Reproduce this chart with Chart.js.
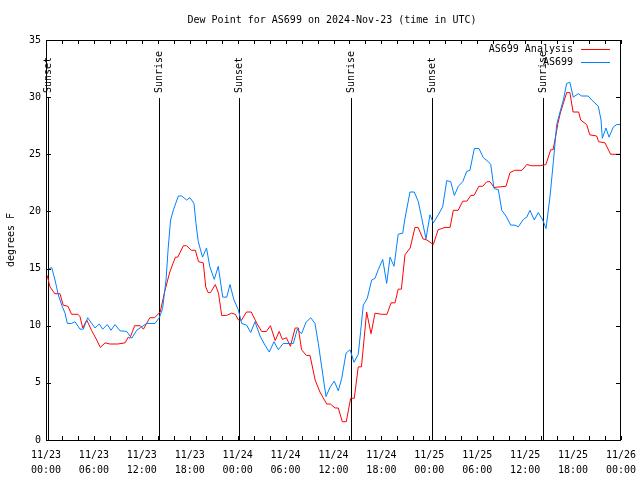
<!DOCTYPE html>
<html>
<head>
<meta charset="utf-8">
<script src="https://cdn.jsdelivr.net/npm/chart.js@4.4.1/dist/chart.umd.min.js"></script>
<style>
  html, body { margin: 0; padding: 0; background: #fff; }
  canvas { display: block; }
</style>
</head>
<body>
<canvas id="c" width="640" height="480"></canvas>
<script>
// ---- Data (hours since 2024-11-23 00:00 UTC, dew point in degrees F) ----
const analysisHours = [0.15,0.5,1.1,1.75,2.15,2.75,3.2,4.0,4.25,4.6,5.1,5.7,6.35,6.8,7.4,8.0,9.0,9.9,10.3,10.5,11.1,11.8,12.2,13.0,13.6,14.3,14.9,15.5,16.2,16.5,17.2,17.6,18.2,18.7,19.1,19.7,20.0,20.3,20.6,21.2,21.6,22.0,22.6,23.25,23.7,24.1,24.5,25.1,25.7,26.4,27.0,27.6,28.1,28.7,29.2,29.6,30.1,30.6,31.2,31.6,32.0,32.6,33.06,33.7,34.3,35.15,35.6,36.2,36.6,37.1,37.6,38.15,38.6,39.1,39.5,40.15,40.7,41.2,42.0,42.7,43.2,43.7,44.1,44.5,44.95,45.6,46.2,46.6,47.2,47.7,48.5,49.1,49.96,50.6,51.0,51.6,52.2,52.7,53.2,53.6,54.2,54.7,55.2,55.6,56.1,57.6,58.1,58.7,59.6,60.2,60.8,61.9,62.6,63.2,63.5,63.9,64.1,64.4,64.8,65.2,65.6,66.0,66.7,66.95,67.7,68.1,68.95,69.2,70.0,70.7,72];
const analysisDewF = [14.4,13.4,12.8,12.8,11.8,11.7,11.0,11.0,10.8,9.8,10.5,9.6,8.75,8.1,8.5,8.4,8.4,8.5,9.0,8.9,10.0,10.0,9.7,10.7,10.7,11.2,13.1,14.7,16.0,16.0,17.0,17.0,16.6,16.6,15.6,15.5,13.4,12.9,12.9,13.6,12.85,10.9,10.9,11.1,11.0,10.5,10.5,11.2,11.2,10.2,9.5,9.5,10.0,8.7,9.5,8.8,8.95,8.2,9.8,9.8,7.9,7.4,7.4,5.25,4.2,3.15,3.15,2.8,2.8,1.6,1.6,3.65,3.65,6.4,6.4,11.2,9.3,11.1,11.0,11.0,12.0,12.0,13.2,13.2,16.2,16.8,18.6,18.6,17.6,17.5,17.1,18.4,18.6,18.6,20.1,20.1,20.9,20.9,21.4,21.4,22.2,22.2,22.6,22.6,22.1,22.2,23.4,23.6,23.6,24.1,24.0,24.0,24.1,25.4,25.4,26.9,27.7,28.6,29.5,30.4,30.4,28.7,28.7,28.0,27.6,26.7,26.6,26.1,26.0,25.0,25.0];

const stationHours = [0.16,0.71,1.13,1.54,1.97,2.38,2.67,3.22,3.63,4.26,4.67,5.22,5.72,6.14,6.67,7.1,7.68,8.14,8.64,9.27,10.1,10.73,11.36,11.98,12.6,13.65,14.19,14.6,15.03,15.3,15.6,15.94,16.57,16.99,17.6,18.03,18.53,18.78,19.07,19.6,20.1,20.5,21.07,21.57,22.13,22.63,23.04,23.54,24.08,24.5,25.13,25.63,26.17,26.8,27.42,27.96,28.55,29.09,29.7,30.97,31.47,32.0,32.56,33.15,33.68,34.1,34.52,35.06,35.56,36.1,36.6,37.03,37.57,38.07,38.57,39.1,39.4,39.73,40.23,40.78,41.2,41.6,42.16,42.66,43.08,43.58,44.1,44.67,44.95,45.58,46.12,46.62,47.05,47.58,48.08,48.5,49.12,49.67,50.18,50.68,51.13,51.63,52.18,52.68,53.09,53.63,54.22,54.76,55.39,55.69,56.1,56.64,57.07,57.6,58.19,58.73,59.14,59.77,60.2,60.6,61.14,61.64,62.2,62.61,63.11,63.53,63.95,64.36,64.78,65.2,65.6,66.02,66.65,67.07,67.9,68.33,69.16,69.5,69.66,70.12,70.5,71.05,71.47,72];
const stationDewF = [14.9,15.1,14.0,12.7,11.8,11.1,10.2,10.2,10.35,9.7,9.7,10.7,10.2,9.8,10.15,9.7,10.1,9.6,10.1,9.55,9.5,8.9,9.6,9.9,10.2,10.2,10.7,11.5,14.0,16.8,19.25,20.1,21.35,21.35,21.0,21.2,20.7,18.95,17.35,16.0,16.8,15.2,14.05,15.2,12.5,12.5,13.6,12.25,11.4,10.2,10.05,9.4,10.35,9.1,8.3,7.7,8.6,7.9,8.45,8.45,9.7,9.3,10.3,10.7,10.2,8.45,6.4,3.8,4.6,5.15,4.3,5.4,7.6,7.9,6.8,7.5,9.5,11.8,12.4,14.0,14.15,14.9,15.8,13.7,16.0,15.2,18.0,18.1,19.4,21.7,21.7,20.85,19.4,17.6,19.7,19.0,19.7,20.4,22.7,22.6,21.4,22.2,22.6,23.5,23.6,25.5,25.5,24.7,24.35,24.1,22.0,21.9,20.1,19.6,18.8,18.8,18.65,19.3,19.5,20.1,19.25,19.9,19.25,18.5,21.3,24.35,27.6,28.7,29.75,31.2,31.3,30.0,30.3,30.1,30.1,29.75,29.2,28.0,26.4,27.3,26.5,27.4,27.6,27.6];

const eventHours = [0.28, 14.19, 24.2, 38.23, 48.3, 62.27];
const eventLabels = ['Sunset', 'Sunrise', 'Sunset', 'Sunrise', 'Sunset', 'Sunrise'];

const seriesNames = ['AS699 Analysis', 'AS699'];
const seriesColors = ['#ff0000', '#0080ff'];
const startDay = 23;
const monthLabel = '11';

const FONT = '10px "DejaVu Sans Mono", "Liberation Mono", monospace';

function pad2(n) { return (n < 10 ? '0' : '') + n; }
function toPoints(hs, vs) { return hs.map((h, i) => ({ x: h, y: vs[i] })); }
function zeroPad(s) { s.paddingLeft = 0; s.paddingRight = 0; s.paddingTop = 0; s.paddingBottom = 0; }

const decor = {
  id: 'decor',
  beforeDatasetsDraw(chart) {
    const { ctx, chartArea: a, scales: { x } } = chart;
    ctx.save();
    ctx.strokeStyle = '#000';
    ctx.lineWidth = 1;
    ctx.font = FONT;
    ctx.fillStyle = '#000';
    eventHours.forEach((h, i) => {
      const px = Math.round(x.getPixelForValue(h)) + 0.5;
      ctx.beginPath();
      ctx.moveTo(px, a.top + 58);
      ctx.lineTo(px, a.bottom);
      ctx.stroke();
      ctx.save();
      ctx.translate(px, a.top + 53);
      ctx.rotate(-Math.PI / 2);
      ctx.textAlign = 'left';
      ctx.textBaseline = 'middle';
      ctx.fillText(eventLabels[i], 0, 0);
      ctx.restore();
    });
    ctx.restore();
  },
  afterDraw(chart) {
    const { ctx, chartArea: a, scales: { x, y } } = chart;
    ctx.save();
    ctx.strokeStyle = '#000';
    ctx.lineWidth = 1;
    // frame
    ctx.strokeRect(a.left + 0.5, a.top + 0.5, a.right - a.left - 1, a.bottom - a.top);
    // x ticks every 2 hours (top & bottom, inward)
    ctx.beginPath();
    for (let h = 0; h <= 72; h += 2) {
      const px = Math.round(x.getPixelForValue(h)) + 0.5;
      ctx.moveTo(px, a.bottom); ctx.lineTo(px, a.bottom - 4);
      ctx.moveTo(px, a.top); ctx.lineTo(px, a.top + 4);
    }
    for (let v = 0; v <= 35; v += 5) {
      const py = Math.round(y.getPixelForValue(v)) + 0.5;
      ctx.moveTo(a.left, py); ctx.lineTo(a.left + 5, py);
      ctx.moveTo(a.right, py); ctx.lineTo(a.right - 5, py);
    }
    ctx.stroke();
    // title
    ctx.font = FONT;
    ctx.fillStyle = '#000';
    ctx.textAlign = 'center';
    ctx.textBaseline = 'middle';
    ctx.fillText('Dew Point for AS699 on 2024-Nov-23 (time in UTC)', 332, 20);
    // y axis title
    ctx.save();
    ctx.translate(11, 240);
    ctx.rotate(-Math.PI / 2);
    ctx.fillText('degrees F', 0, 0);
    ctx.restore();
    // legend
    const rows = [49, 62];
    seriesNames.forEach((name, i) => {
      ctx.textAlign = 'right';
      ctx.textBaseline = 'middle';
      ctx.fillStyle = '#000';
      ctx.fillText(name, 573, rows[i]);
      ctx.strokeStyle = seriesColors[i];
      ctx.beginPath();
      ctx.moveTo(581, rows[i] + 0.5);
      ctx.lineTo(610, rows[i] + 0.5);
      ctx.stroke();
    });
    ctx.restore();
  }
};

new Chart(document.getElementById('c'), {
  type: 'line',
  data: {
    datasets: [
      { label: seriesNames[0], data: toPoints(analysisHours, analysisDewF), borderColor: seriesColors[0], backgroundColor: seriesColors[0], borderWidth: 1, pointRadius: 0, tension: 0, order: 1 },
      { label: seriesNames[1], data: toPoints(stationHours, stationDewF), borderColor: seriesColors[1], backgroundColor: seriesColors[1], borderWidth: 1, pointRadius: 0, tension: 0, order: 0 }
    ]
  },
  options: {
    responsive: false,
    animation: false,
    events: [],
    layout: { padding: { top: 40, right: 19, left: 0, bottom: 0 } },
    plugins: { legend: { display: false }, title: { display: false }, tooltip: { enabled: false } },
    scales: {
      x: {
        type: 'linear', min: 0, max: 72,
        grid: { display: false, drawTicks: false },
        border: { display: false },
        ticks: {
          stepSize: 6, autoSkip: false, maxRotation: 0, padding: 8,
          color: '#000', font: { family: '"DejaVu Sans Mono", monospace', size: 10, lineHeight: 1.5 },
          callback: (v) => {
            const day = startDay + Math.floor(v / 24);
            const hr = v % 24;
            return [monthLabel + '/' + day, pad2(hr) + ':00'];
          }
        },
        afterFit: (s) => { s.height = 40; zeroPad(s); }
      },
      y: {
        min: 0, max: 35,
        grid: { display: false, drawTicks: false },
        border: { display: false },
        ticks: { stepSize: 5, padding: 5, color: '#000', font: { family: '"DejaVu Sans Mono", monospace', size: 10 } },
        afterFit: (s) => { s.width = 46; zeroPad(s); }
      }
    }
  },
  plugins: [decor]
});
</script>
</body>
</html>
